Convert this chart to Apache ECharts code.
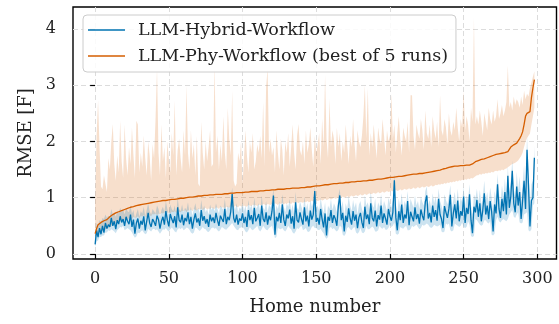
<!DOCTYPE html>
<html>
<head>
<meta charset="utf-8">
<script src="https://cdn.jsdelivr.net/npm/echarts@6/dist/echarts.min.js"></script>
<style>
  html, body { margin: 0; padding: 0; background: #fff; }
  #chart { width: 559px; height: 324px; }
</style>
</head>
<body>
<div id="chart"></div>
<script>
// RMSE per home, homes sorted by the best-of-5 Phy result
const xTicks = [0, 50, 100, 150, 200, 250, 300];
const yTicks = [0, 1, 2, 3, 4];

const hybrid = [
  0.17,0.42,0.30,0.46,0.35,0.50,0.38,0.55,0.45,0.52,0.48,0.64,0.50,0.58,0.44,0.60,0.53,0.67,0.56,0.62,
  0.50,0.66,0.58,0.53,0.70,0.48,0.61,0.36,0.55,0.63,0.45,0.59,0.52,0.67,0.42,0.58,0.73,0.55,0.48,0.62,
  0.57,0.50,0.68,0.61,0.45,0.58,0.66,0.52,0.76,0.60,0.49,0.71,0.62,0.55,0.67,0.47,0.83,0.60,0.56,0.70,
  0.51,0.64,0.58,0.74,0.53,0.66,0.45,0.61,0.72,0.56,0.63,0.50,0.78,0.59,0.67,0.54,0.62,0.48,0.70,0.58,
  0.65,0.55,0.73,0.60,0.50,0.68,0.62,0.57,0.80,0.53,0.66,0.60,0.75,1.07,0.64,0.56,0.70,0.52,0.63,0.59,
  0.72,0.55,0.66,0.48,0.78,0.60,0.69,0.53,0.82,0.58,0.64,0.71,0.50,0.86,0.62,0.57,0.74,0.52,0.68,0.60,
  0.76,1.04,0.34,0.66,0.58,0.73,0.55,0.88,0.61,0.50,0.70,0.63,0.79,0.54,0.67,0.45,0.92,0.60,0.56,0.74,
  0.62,0.52,0.83,0.58,0.68,0.49,0.77,0.61,0.70,1.12,0.57,0.64,0.52,0.80,0.62,0.47,0.72,0.33,0.66,0.59,
  0.78,0.55,0.69,0.62,0.50,0.85,1.04,0.60,0.73,0.40,0.68,0.57,0.81,0.63,0.52,0.76,0.59,0.70,0.46,0.65,
  0.73,0.56,0.46,0.84,0.62,0.70,0.53,0.90,0.64,0.58,0.77,0.49,0.69,0.61,0.86,0.55,0.72,0.63,0.52,0.80,
  0.67,0.59,0.74,1.31,0.65,0.42,0.76,0.60,0.88,0.55,0.70,0.63,0.94,0.51,0.75,0.66,0.58,0.83,0.62,0.71,
  0.54,0.79,0.68,0.60,0.92,1.04,0.63,0.73,0.56,0.86,0.66,0.78,0.59,0.98,0.70,0.62,0.46,0.85,0.74,0.64,
  0.80,1.05,0.49,0.72,0.88,0.63,0.95,0.58,0.76,0.68,1.02,0.55,0.82,0.71,1.06,0.60,0.37,0.84,0.74,0.96,
  0.66,0.90,0.58,0.78,1.08,0.70,0.86,0.62,0.94,0.75,0.40,0.88,0.72,1.24,0.80,0.64,0.98,0.76,1.10,0.70,
  1.39,0.82,1.02,1.48,0.90,0.74,1.20,0.86,1.10,0.62,0.95,1.30,0.80,1.85,1.22,0.49,0.95,1.00,1.71
];
const hybridLo = [
  0.12,0.22,0.24,0.30,0.30,0.33,0.33,0.38,0.38,0.42,0.41,0.44,0.42,0.40,0.37,0.42,0.45,0.48,0.47,0.50,
  0.42,0.44,0.46,0.44,0.42,0.38,0.33,0.29,0.31,0.38,0.37,0.40,0.42,0.38,0.35,0.37,0.45,0.42,0.40,0.44,
  0.45,0.42,0.44,0.40,0.36,0.40,0.44,0.43,0.46,0.42,0.40,0.44,0.47,0.44,0.40,0.38,0.44,0.46,0.44,0.47,
  0.42,0.44,0.47,0.46,0.43,0.38,0.36,0.38,0.47,0.46,0.43,0.41,0.44,0.48,0.45,0.44,0.40,0.39,0.42,0.46,
  0.47,0.45,0.46,0.42,0.40,0.43,0.48,0.46,0.44,0.43,0.46,0.49,0.52,0.55,0.50,0.46,0.43,0.42,0.46,0.47,
  0.48,0.45,0.40,0.38,0.42,0.48,0.44,0.42,0.45,0.47,0.50,0.43,0.40,0.44,0.50,0.46,0.43,0.42,0.46,0.48,
  0.50,0.40,0.28,0.30,0.46,0.45,0.44,0.46,0.42,0.40,0.44,0.50,0.46,0.44,0.38,0.36,0.40,0.46,0.44,0.48,
  0.50,0.42,0.44,0.46,0.40,0.39,0.42,0.48,0.50,0.46,0.46,0.43,0.42,0.45,0.40,0.37,0.30,0.27,0.30,0.46,
  0.48,0.44,0.46,0.42,0.40,0.43,0.50,0.48,0.34,0.32,0.36,0.46,0.48,0.44,0.42,0.46,0.48,0.38,0.36,0.39,
  0.46,0.38,0.37,0.40,0.50,0.44,0.44,0.46,0.49,0.46,0.40,0.40,0.42,0.50,0.46,0.45,0.48,0.43,0.43,0.46,
  0.52,0.48,0.50,0.56,0.36,0.34,0.36,0.48,0.46,0.45,0.48,0.50,0.42,0.42,0.44,0.50,0.48,0.50,0.52,0.48,
  0.44,0.46,0.52,0.50,0.52,0.54,0.52,0.48,0.46,0.48,0.52,0.50,0.49,0.50,0.52,0.40,0.38,0.40,0.54,0.52,
  0.54,0.42,0.40,0.42,0.54,0.52,0.50,0.48,0.50,0.56,0.48,0.46,0.48,0.58,0.52,0.32,0.30,0.32,0.62,0.60,
  0.56,0.52,0.50,0.52,0.60,0.60,0.56,0.54,0.58,0.34,0.33,0.36,0.60,0.66,0.58,0.56,0.60,0.62,0.60,0.58,
  0.62,0.70,0.74,0.78,0.66,0.64,0.70,0.74,0.56,0.54,0.56,0.70,0.72,0.74,0.42,0.40,0.44,0.86,0.90
];
const hybridHi = [
  0.30,0.55,0.50,0.60,0.56,0.64,0.62,0.70,0.64,0.68,0.66,0.80,0.70,0.74,0.66,0.76,0.72,0.82,0.74,0.80,
  0.70,0.82,0.76,0.74,0.86,0.72,0.78,0.62,0.72,0.80,0.66,0.76,0.72,0.84,0.66,0.78,0.90,0.76,0.70,0.80,
  0.76,0.72,0.86,0.80,0.66,0.78,0.84,0.74,0.94,0.80,0.70,0.88,0.80,0.76,0.86,0.70,1.00,0.80,0.76,0.88,
  0.74,0.82,0.78,0.92,0.74,0.84,0.68,0.80,0.90,0.76,0.82,0.72,0.96,0.78,0.86,0.74,0.80,0.70,0.88,0.78,
  0.84,0.76,0.90,0.80,0.72,0.86,0.82,0.78,0.98,0.76,0.86,0.80,0.96,1.18,0.86,0.78,0.90,0.74,0.82,0.80,
  0.92,0.76,0.86,0.70,0.96,0.80,0.88,0.76,1.00,0.80,0.84,0.90,0.74,1.04,0.82,0.78,0.94,0.74,0.88,0.82,
  0.96,1.16,0.70,0.86,0.80,0.94,0.78,1.06,0.84,0.74,0.90,0.84,0.98,0.76,0.88,0.70,1.10,0.82,0.78,0.94,
  0.84,0.74,1.02,0.80,0.90,0.72,0.96,0.84,0.92,1.22,0.80,0.86,0.76,1.00,0.84,0.72,0.92,0.62,0.86,0.80,
  0.98,0.78,0.90,0.84,0.74,1.04,1.16,0.82,0.94,0.66,0.90,0.80,1.02,0.86,0.76,0.96,0.82,0.92,0.70,0.88,
  0.94,0.80,0.72,1.04,0.86,0.92,0.78,1.10,0.88,0.82,0.98,0.74,0.92,0.84,1.06,0.80,0.94,0.86,0.76,1.00,
  0.90,0.82,0.96,1.42,0.88,0.70,0.98,0.84,1.08,0.80,0.94,0.86,1.12,0.78,0.98,0.90,0.82,1.04,0.86,0.94,
  0.80,1.02,0.92,0.86,1.12,1.20,0.88,0.96,0.82,1.08,0.90,1.02,0.84,1.16,0.94,0.86,0.74,1.06,0.96,0.88,
  1.04,1.22,0.80,0.96,1.10,0.88,1.16,0.84,1.00,0.92,1.20,0.82,1.04,0.96,1.24,0.86,0.70,1.06,0.98,1.16,
  0.92,1.14,0.86,1.02,1.30,0.96,1.10,0.90,1.18,1.00,0.76,1.12,0.98,1.42,1.06,0.92,1.22,1.02,1.34,0.98,
  1.56,1.10,1.30,1.66,1.16,1.02,1.46,1.14,1.38,0.94,1.24,1.58,1.10,2.10,1.52,0.86,1.24,1.30,1.92
];
const phyBest = [
  0.36,0.45,0.52,0.55,0.56,0.58,0.59,0.60,0.61,0.63,0.66,0.68,0.70,0.72,0.73,0.74,0.75,0.76,0.77,0.78,
  0.79,0.80,0.81,0.82,0.83,0.84,0.84,0.85,0.86,0.86,0.87,0.88,0.88,0.89,0.89,0.90,0.90,0.91,0.91,0.92,
  0.92,0.93,0.93,0.94,0.94,0.94,0.95,0.95,0.95,0.96,0.96,0.96,0.97,0.97,0.97,0.98,0.98,0.98,0.99,0.99,
  0.99,1.00,1.00,1.00,1.01,1.01,1.01,1.02,1.02,1.02,1.03,1.03,1.03,1.03,1.04,1.04,1.04,1.04,1.05,1.05,
  1.05,1.05,1.06,1.06,1.06,1.06,1.06,1.07,1.07,1.07,1.07,1.08,1.08,1.08,1.08,1.08,1.09,1.09,1.09,1.09,
  1.09,1.10,1.10,1.10,1.10,1.10,1.11,1.11,1.11,1.11,1.11,1.12,1.12,1.12,1.12,1.13,1.13,1.13,1.13,1.13,
  1.14,1.14,1.14,1.14,1.15,1.15,1.15,1.15,1.15,1.16,1.16,1.16,1.16,1.16,1.17,1.17,1.17,1.17,1.17,1.18,
  1.18,1.18,1.18,1.19,1.19,1.19,1.19,1.20,1.20,1.20,1.21,1.21,1.21,1.22,1.22,1.22,1.23,1.23,1.23,1.24,
  1.24,1.24,1.25,1.25,1.25,1.25,1.26,1.26,1.26,1.26,1.27,1.27,1.27,1.27,1.28,1.28,1.28,1.28,1.29,1.29,
  1.29,1.29,1.30,1.30,1.30,1.30,1.31,1.31,1.31,1.32,1.32,1.32,1.33,1.33,1.33,1.34,1.34,1.34,1.35,1.35,
  1.36,1.36,1.36,1.37,1.37,1.37,1.38,1.38,1.38,1.39,1.39,1.40,1.40,1.41,1.41,1.41,1.42,1.42,1.42,1.43,
  1.43,1.43,1.43,1.44,1.44,1.44,1.45,1.45,1.46,1.46,1.47,1.47,1.48,1.49,1.49,1.50,1.51,1.52,1.52,1.53,
  1.54,1.54,1.55,1.55,1.56,1.56,1.56,1.57,1.57,1.57,1.57,1.58,1.58,1.58,1.58,1.59,1.60,1.62,1.64,1.65,
  1.66,1.67,1.68,1.68,1.69,1.70,1.71,1.72,1.73,1.74,1.75,1.76,1.77,1.77,1.78,1.78,1.79,1.79,1.80,1.81,
  1.82,1.86,1.90,1.92,1.94,1.96,1.97,1.99,2.05,2.10,2.17,2.30,2.45,2.50,2.52,2.53,2.78,2.95,3.10
];
// spread of the 5 runs
const phyLo = [
  0.28,0.32,0.36,0.38,0.40,0.41,0.42,0.44,0.45,0.46,0.48,0.50,0.52,0.54,0.55,0.56,0.57,0.58,0.60,0.60,
  0.61,0.62,0.60,0.64,0.63,0.62,0.66,0.64,0.65,0.67,0.63,0.68,0.66,0.69,0.67,0.65,0.70,0.69,0.67,0.71,
  0.70,0.72,0.69,0.72,0.70,0.73,0.72,0.74,0.71,0.74,0.73,0.72,0.75,0.74,0.76,0.73,0.76,0.75,0.74,0.77,
  0.76,0.78,0.74,0.78,0.77,0.79,0.76,0.80,0.78,0.77,0.80,0.79,0.81,0.78,0.80,0.82,0.79,0.81,0.80,0.82,
  0.81,0.80,0.83,0.82,0.80,0.84,0.82,0.83,0.81,0.84,0.83,0.82,0.85,0.84,0.82,0.86,0.84,0.83,0.86,0.85,
  0.84,0.86,0.85,0.84,0.87,0.86,0.85,0.88,0.86,0.87,0.85,0.88,0.87,0.86,0.89,0.88,0.86,0.89,0.88,0.87,
  0.89,0.88,0.90,0.89,0.87,0.90,0.89,0.91,0.88,0.90,0.89,0.91,0.90,0.89,0.92,0.90,0.91,0.92,0.90,0.93,
  0.92,0.91,0.93,0.92,0.94,0.92,0.93,0.95,0.93,0.94,0.96,0.94,0.95,0.97,0.95,0.96,0.98,0.96,0.97,0.99,
  0.97,0.98,1.00,0.98,0.99,1.01,0.99,1.00,1.02,1.00,1.01,1.03,1.01,1.02,1.04,1.02,1.03,1.05,1.03,1.04,
  1.06,1.04,1.05,1.07,1.05,1.06,1.08,1.06,1.07,1.09,1.07,1.08,1.10,1.08,1.09,1.11,1.09,1.10,1.12,1.10,
  1.11,1.13,1.11,1.12,1.14,1.12,1.13,1.15,1.13,1.14,1.16,1.14,1.15,1.17,1.15,1.16,1.18,1.16,1.17,1.19,
  1.17,1.18,1.20,1.18,1.19,1.21,1.19,1.20,1.22,1.20,1.21,1.23,1.22,1.24,1.23,1.25,1.24,1.26,1.25,1.27,
  1.26,1.28,1.27,1.29,1.28,1.30,1.29,1.31,1.30,1.32,1.31,1.33,1.32,1.34,1.33,1.35,1.34,1.36,1.38,1.40,
  1.40,1.42,1.41,1.43,1.42,1.44,1.43,1.45,1.44,1.46,1.45,1.47,1.48,1.47,1.49,1.48,1.50,1.49,1.51,1.52,
  1.54,1.56,1.58,1.60,1.61,1.62,1.64,1.66,1.70,1.74,1.80,1.90,2.00,2.06,2.10,2.14,2.30,2.45,2.60
];
const phyHi = [
  0.90,2.10,2.73,1.90,1.20,1.15,1.40,1.25,1.10,1.70,1.50,2.00,2.31,1.60,1.30,1.75,1.45,2.37,1.65,1.35,
  2.30,1.70,1.40,1.90,1.60,2.25,1.75,1.35,2.37,2.30,1.45,1.80,1.55,2.10,1.70,1.40,2.00,1.75,1.30,1.95,
  1.70,2.40,3.30,1.80,1.40,2.30,1.65,1.90,1.35,2.00,1.70,1.45,2.15,1.75,2.73,1.40,1.85,2.05,1.70,1.45,
  2.20,1.75,3.00,1.80,1.50,2.20,1.70,1.95,1.40,2.10,1.25,1.20,2.35,1.80,1.50,2.00,1.65,1.90,2.20,1.55,
  1.60,3.40,1.80,2.10,1.50,1.95,1.65,2.45,1.80,1.50,2.60,2.05,1.75,2.90,1.30,1.20,1.25,1.80,1.65,2.00,
  1.25,1.70,2.20,1.75,1.45,2.00,1.80,2.15,1.50,1.65,1.95,1.80,2.10,1.70,2.70,1.55,2.96,3.30,1.80,2.05,
  1.75,1.90,1.45,2.20,1.80,1.50,2.05,1.85,1.40,2.00,1.80,2.15,1.55,1.90,2.30,1.80,1.50,2.10,2.31,1.85,
  1.75,2.00,1.60,2.20,1.80,1.95,2.25,1.85,1.55,2.10,1.80,1.95,2.15,1.60,2.40,1.90,3.18,2.05,1.70,2.76,
  1.90,2.20,2.05,1.60,2.25,1.90,2.15,1.65,2.00,1.80,2.30,1.95,1.60,2.10,1.90,2.40,1.95,1.65,2.20,2.00,
  1.90,2.10,2.45,3.00,2.05,2.95,1.75,2.15,1.90,2.30,2.00,1.70,2.25,2.05,1.95,2.40,2.10,1.75,2.20,2.00,
  2.10,2.85,2.05,2.30,1.80,2.15,2.45,2.05,1.75,2.25,2.10,2.00,2.35,1.80,2.82,2.82,2.10,1.85,2.30,2.15,
  2.05,2.40,2.20,1.85,2.55,2.15,2.05,2.30,1.90,2.45,2.20,2.05,2.35,1.90,2.82,2.20,2.10,2.40,2.25,1.95,
  2.50,2.20,2.10,2.35,2.20,2.60,2.25,2.00,2.40,2.25,2.90,2.20,2.45,2.30,2.00,2.60,2.35,4.20,2.30,2.45,
  2.30,2.55,2.35,2.10,2.50,2.35,2.20,2.60,2.40,2.30,2.55,2.35,2.45,2.75,2.40,2.50,2.65,2.45,2.55,2.70,
  3.35,2.60,2.70,2.55,2.80,2.65,2.75,2.70,2.60,2.80,2.65,2.90,2.75,2.85,2.80,2.95,3.05,3.15,3.25
];

const BLUE = '#0173b2';
const ORANGE = '#d55e00';
const FONT = 'DejaVu Serif';

const pts = arr => arr.map((v, i) => [i, v]);

// filled band between lo and hi, drawn once as a polygon in data coordinates
const band = (lo, hi, fill) => ({
  type: 'custom', silent: true, z: 1,
  data: lo.map((v, i) => [i, v, hi[i]]),
  encode: { x: 0, y: [1, 2] },
  renderItem: (params, api) => {
    if (params.dataIndex !== 0) return null;
    const top = hi.map((v, i) => api.coord([i, v]));
    const bottom = lo.map((v, i) => api.coord([i, v])).reverse();
    return {
      type: 'polygon',
      shape: { points: top.concat(bottom) },
      style: { fill: fill, stroke: null }
    };
  }
});

const chart = echarts.init(document.getElementById('chart'), null, { renderer: 'canvas' });

chart.setOption({
  animation: false,
  backgroundColor: '#fff',
  grid: {
    left: 73, right: 2.5, top: 7, bottom: 65,
    show: true, borderColor: '#000', borderWidth: 1.4,
    containLabel: false, outerBoundsMode: 'none'
  },
  legend: {
    data: ['LLM-Hybrid-Workflow', 'LLM-Phy-Workflow (best of 5 runs)'],
    orient: 'vertical',
    left: 83, top: 15,
    padding: [4, 8, 5, 5],
    icon: 'rect',
    itemWidth: 37, itemHeight: 1.5, itemGap: 4,
    backgroundColor: 'rgba(255,255,255,0.85)',
    borderColor: '#cccccc', borderWidth: 1, borderRadius: 4,
    textStyle: { fontFamily: FONT, fontSize: 17.5, color: '#222', padding: [0, 0, 0, 8], lineHeight: 22 }
  },
  xAxis: {
    type: 'value', min: -15, max: 313,
    name: 'Home number', nameLocation: 'middle', nameGap: 39,
    nameTextStyle: { fontFamily: FONT, fontSize: 18, color: '#222' },
    axisLine: { show: false },
    axisTick: { show: true, length: 5, customValues: xTicks, lineStyle: { color: '#000', width: 1.2 } },
    axisLabel: { margin: 12, customValues: xTicks, fontFamily: FONT, fontSize: 16, color: '#222' },
    splitLine: { show: true, lineStyle: { color: '#dcdcdc', type: [5, 3], width: 1 } }
  },
  yAxis: {
    type: 'value', min: -0.09, max: 4.39,
    name: 'RMSE [F]', nameLocation: 'middle', nameGap: 38, nameRotate: 90,
    nameTextStyle: { fontFamily: FONT, fontSize: 18, color: '#222' },
    axisLine: { show: false },
    axisTick: { show: true, length: 5, customValues: yTicks, lineStyle: { color: '#000', width: 1.2 } },
    axisLabel: { margin: 17, customValues: yTicks, fontFamily: FONT, fontSize: 16, color: '#222' },
    splitLine: { show: true, lineStyle: { color: '#dcdcdc', type: [5, 3], width: 1 } }
  },
  series: [
    band(phyLo, phyHi, 'rgba(213,94,0,0.2)'),
    band(hybridLo, hybridHi, 'rgba(1,115,178,0.2)'),
    {
      name: 'LLM-Hybrid-Workflow', type: 'line', data: pts(hybrid),
      symbol: 'none', color: BLUE, lineStyle: { width: 1.3, color: BLUE }, z: 3
    },
    {
      name: 'LLM-Phy-Workflow (best of 5 runs)', type: 'line', data: pts(phyBest),
      symbol: 'none', color: ORANGE, lineStyle: { width: 1.3, color: ORANGE }, z: 4
    }
  ]
});
</script>
</body>
</html>
